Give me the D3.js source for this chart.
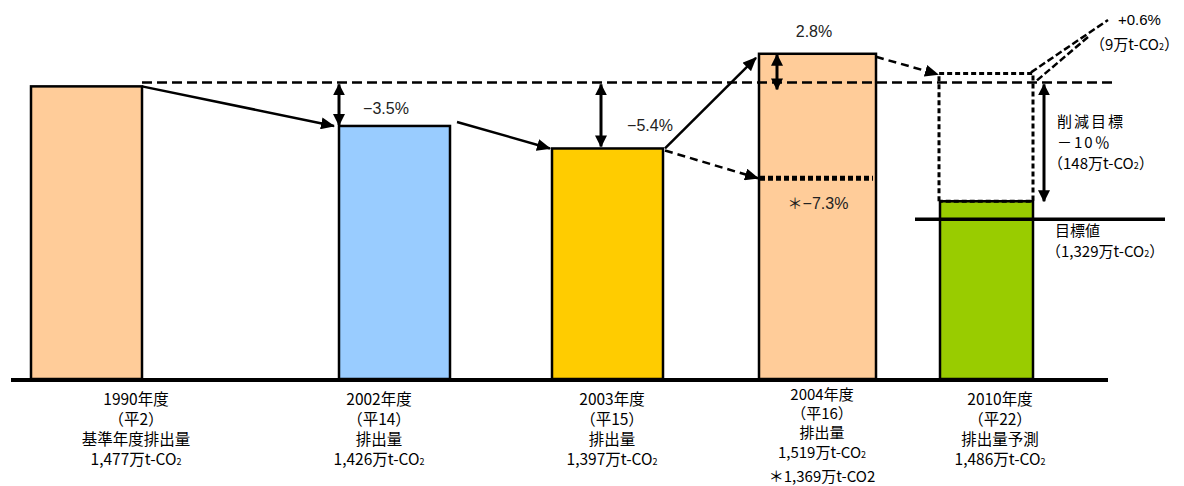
<!DOCTYPE html>
<html><head><meta charset="utf-8">
<script src="https://cdn.jsdelivr.net/npm/d3@7"></script>
<style>body{margin:0;background:#fff}svg{display:block}</style>
</head><body>
<svg id="c" width="1184" height="486"></svg>
<script>
// ---- data ----
const categories = ["1990", "2002", "2003", "2004", "2010"];
const emissions = [1477, 1426, 1397, 1519, 1486];          // 万t-CO2 (2010 = forecast)
const baseValue = 1477;
const target2010 = 1329;
const adjusted2004 = 1369;
const changeLabels = ["−3.5%", "−5.4%", "2.8%", "−7.3%"];
const yearLabels = ["1990年度", "2002年度", "2003年度", "2004年度", "2010年度"];
const heiseiLabels = ["（平2）", "（平14）", "（平15）", "（平16）", "（平22）"];
const kindLabels = ["基準年度排出量", "排出量", "排出量", "排出量", "排出量予測"];
const barColors = ["#FFCC99", "#99CCFF", "#FFCC00", "#FFCC99", "#99CC00"];

// ---- layout ----
const svg = d3.select("#c");
const JP = "'Noto Sans CJK JP','Noto Sans',sans-serif";
const LAT = "'Liberation Sans',Arial,sans-serif";
const y = d3.scaleLinear().domain([1100, 1520]).range([379, 53]);
const xLeft = d3.scaleOrdinal().domain(categories).range([31, 339, 552, 759, 940]);
const bw = d3.scaleOrdinal().domain(categories).range([111, 111, 111, 117, 93]);
const labelX = d3.scaleOrdinal().domain(categories).range([136, 379, 612, 822, 1000]);
const fmt = d3.format(",");

const defs = svg.append("defs");
defs.append("marker").attr("id", "ah").attr("markerUnits", "userSpaceOnUse")
  .attr("viewBox", "0 0 14 12").attr("markerWidth", 14).attr("markerHeight", 12)
  .attr("refX", 13).attr("refY", 6).attr("orient", "auto-start-reverse")
  .append("path").attr("d", "M0,0 L14,6 L0,12 Z").attr("fill", "#000");
defs.append("marker").attr("id", "ah2").attr("markerUnits", "userSpaceOnUse")
  .attr("viewBox", "0 0 12 12").attr("markerWidth", 12).attr("markerHeight", 12)
  .attr("refX", 11).attr("refY", 6).attr("orient", "auto-start-reverse")
  .append("path").attr("d", "M0,0 L12,6 L0,12 Z").attr("fill", "#000");

// bars values to draw (2010 bar = target, forecast drawn as dotted box)
const barVals = emissions.map((v, i) => i === 4 ? target2010 : v);
const base = y.range()[0];

svg.append("g").selectAll("rect").data(categories).join("rect")
  .attr("x", d => xLeft(d)).attr("width", d => bw(d))
  .attr("y", (d, i) => y(barVals[i])).attr("height", (d, i) => base - y(barVals[i]))
  .attr("fill", (d, i) => barColors[i]).attr("stroke", "#000").attr("stroke-width", 2.5);

// baseline
svg.append("line").attr("x1", 11).attr("x2", 1108).attr("y1", base + 1).attr("y2", base + 1)
  .attr("stroke", "#000").attr("stroke-width", 4);

// base reference dashed line
const refY = y(baseValue) - 4;
const r0 = xLeft("1990") + bw("1990");
svg.append("line").attr("x1", r0).attr("x2", 1113).attr("y1", refY).attr("y2", refY)
  .attr("stroke", "#000").attr("stroke-width", 2.5).attr("stroke-dasharray", "10,5");

function line(x1, y1, x2, y2, opts = {}) {
  const l = svg.append("line").attr("x1", x1).attr("y1", y1).attr("x2", x2).attr("y2", y2)
    .attr("stroke", "#000").attr("stroke-width", opts.w || 2.5);
  if (opts.dash) l.attr("stroke-dasharray", opts.dash);
  if (opts.end) l.attr("marker-end", "url(#" + opts.end + ")");
  if (opts.start) l.attr("marker-start", "url(#" + opts.start + ")");
  return l;
}
const right = c => xLeft(c) + bw(c);
const adjY = y(adjusted2004) + 8;

// trend arrows
line(right("1990"), y(emissions[0]), xLeft("2002") - 5, y(emissions[1]), { end: "ah" });
line(457, y(emissions[1]) - 4, xLeft("2003") - 2, y(emissions[2]), { end: "ah" });
line(right("2003") + 2, y(emissions[2]), xLeft("2004") - 3, y(emissions[3]) + 4, { end: "ah" });
line(right("2003") + 2, y(emissions[2]) + 2, xLeft("2004") - 1, adjY, { end: "ah", dash: "8,5" });
// adjusted 2004 dotted level
line(xLeft("2004") + 1, adjY, right("2004") - 3, adjY, { w: 5, dash: "5,3" });

// difference double arrows
line(339, refY + 2, 339, y(emissions[1]) - 1, { start: "ah2", end: "ah2", w: 3 });
line(601, refY + 2, 601, y(emissions[2]) - 2, { start: "ah2", end: "ah2", w: 3 });
line(777, y(emissions[3]) + 1, 777, refY + 7, { start: "ah2", end: "ah2", w: 3 });

// 2010 forecast dotted box
const boxTop = y(emissions[4]) - 6;
const bl = xLeft("2010") - 1, br = right("2010");
line(right("2004"), y(emissions[3]) + 3, bl - 1, boxTop + 1, { end: "ah", dash: "8,5" });
svg.append("path")
  .attr("d", `M${bl},${y(target2010)} V${boxTop} H${br} V${y(target2010)} H${bl}`)
  .attr("fill", "none").attr("stroke", "#000").attr("stroke-width", 3).attr("stroke-dasharray", "5,3");
// +0.6% double dashed lines
line(br - 2, boxTop - 1, 1108, 20, { dash: "7,3", w: 2.5 });
line(br + 4, boxTop + 7, 1088, 37, { dash: "7,3", w: 2.5 });
// reduction double arrow
line(1044, refY + 2, 1044, y(target2010), { start: "ah2", end: "ah2", w: 3 });
// target line
line(915, y(target2010) + 18, 1165, y(target2010) + 18, { w: 3.5 });

// percentage labels
const pctPos = [[386, 110], [650, 127], [814, 33], [818, 205]];
const pg = svg.append("g").selectAll("text").data(changeLabels).join("text")
  .attr("x", (d, i) => pctPos[i][0]).attr("y", (d, i) => pctPos[i][1])
  .attr("text-anchor", "middle").attr("dominant-baseline", "middle")
  .attr("font-family", LAT).attr("font-size", 16).attr("fill", "#222");
pg.each(function (d, i) {
  const t = d3.select(this);
  if (i === 3) t.append("tspan").attr("font-family", JP).attr("font-size", 15).text("＊");
  t.append("tspan").text(d);
});

// CO2 text helper
function co2Text(sel, prefix, sub = true) {
  sel.append("tspan").text(prefix + "t-CO");
  sel.append("tspan").attr("font-size", sub ? 9 : null).text("2");
}

// bottom labels
const lblG = svg.append("g").attr("font-family", JP).attr("font-size", 15.5).attr("fill", "#000")
  .attr("text-anchor", "middle");
categories.forEach((c, i) => {
  const x = labelX(c);
  const tight = c === "2004";
  const ys = tight ? [400, 419, 438, 458] : [405, 425, 445, 465];
  const lines = [yearLabels[i], heiseiLabels[i], kindLabels[i]];
  lines.forEach((t, k) => {
    lblG.append("text").attr("x", x).attr("y", ys[k]).attr("font-size", tight ? 15 : null).text(t);
  });
  const t = lblG.append("text").attr("x", x).attr("y", ys[3]).attr("font-size", tight ? 15 : null);
  co2Text(t, fmt(emissions[i]) + "万");
});
{
  const t = lblG.append("text").attr("x", labelX("2004")).attr("y", 482).attr("font-size", 15);
  t.append("tspan").text("＊" + fmt(adjusted2004) + "万t-CO2");
}

// right annotations
const rg = svg.append("g").attr("font-family", JP).attr("font-size", 15).attr("fill", "#000");
rg.append("text").attr("x", 1118).attr("y", 25).attr("font-family", LAT).attr("font-size", 15).text("+0.6%");
{ const t = rg.append("text").attr("x", 1090).attr("y", 50); co2Text(t, "（9万"); t.append("tspan").text("）"); }
rg.append("text").attr("x", 1057).attr("y", 127).attr("letter-spacing", 2).text("削減目標");
rg.append("text").attr("x", 1057).attr("y", 148).attr("letter-spacing", 2).text("－10％");
{ const t = rg.append("text").attr("x", 1048).attr("y", 169); co2Text(t, "（148万"); t.append("tspan").text("）"); }
rg.append("text").attr("x", 1055).attr("y", 236).text("目標値");
{ const t = rg.append("text").attr("x", 1046).attr("y", 257); co2Text(t, "（1,329万"); t.append("tspan").text("）"); }
</script>
</body></html>
